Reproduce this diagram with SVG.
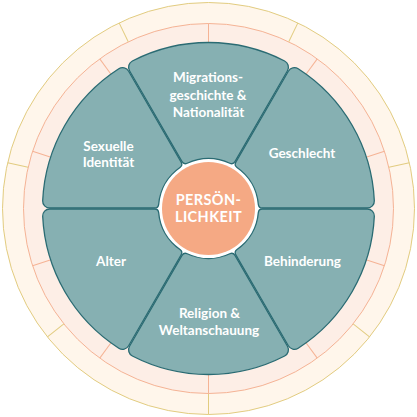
<svg xmlns="http://www.w3.org/2000/svg" xmlns:xlink="http://www.w3.org/1999/xlink" width="417" height="417" viewBox="0 0 417 417">
  <style>
    .seg { fill: #86b0b2; stroke: #2a6b73; stroke-width: 1.3; stroke-linejoin: round; }
    .lbl { font-family: Lato, "Open Sans", "Liberation Sans", sans-serif; font-weight: 700; font-size: 13.5px; fill: #ffffff; text-anchor: middle; }
    .core { font-size: 14.5px; letter-spacing: 0.4px; }
    .gold { stroke: #e2cc80; stroke-width: 1; }
    .salmon { stroke: #f5b395; stroke-width: 1; }
  </style>
  <defs>
    <path id="seg" d="M -21.305 -45.234 A 4 4 0 0 1 -26.473 -46.853 L -78.978 -137.795 A 7 7 0 0 1 -76.126 -147.515 A 166 166 0 0 1 76.126 -147.515 A 7 7 0 0 1 78.978 -137.795 L 26.473 -46.853 A 4 4 0 0 1 21.305 -45.234 A 50 50 0 0 0 -21.305 -45.234 Z"/>
    <line id="gl" x1="0" y1="-185" x2="0" y2="-206"/>
    <line id="sl" x1="0" y1="-164" x2="0" y2="-185"/>
  </defs>
  <rect width="417" height="417" fill="#ffffff"/>
  <g id="rings">
    <circle cx="208.5" cy="208.5" r="206" fill="#fff6eb" stroke="#e2cc80" stroke-width="1"/>
    <circle cx="208.5" cy="208.5" r="185" fill="#fdeee6" stroke="#f5b395" stroke-width="1"/>
    <g class="gold" transform="translate(208.5 208.5)">
      <use xlink:href="#gl" transform="rotate(25.714)"/>
      <use xlink:href="#gl" transform="rotate(77.143)"/>
      <use xlink:href="#gl" transform="rotate(128.571)"/>
      <use xlink:href="#gl" transform="rotate(180)"/>
      <use xlink:href="#gl" transform="rotate(231.429)"/>
      <use xlink:href="#gl" transform="rotate(282.857)"/>
      <use xlink:href="#gl" transform="rotate(334.286)"/>
    </g>
    <g class="salmon" transform="translate(208.5 208.5)">
      <use xlink:href="#sl" transform="rotate(0)"/>
      <use xlink:href="#sl" transform="rotate(36)"/>
      <use xlink:href="#sl" transform="rotate(72)"/>
      <use xlink:href="#sl" transform="rotate(108)"/>
      <use xlink:href="#sl" transform="rotate(144)"/>
      <use xlink:href="#sl" transform="rotate(180)"/>
      <use xlink:href="#sl" transform="rotate(216)"/>
      <use xlink:href="#sl" transform="rotate(252)"/>
      <use xlink:href="#sl" transform="rotate(288)"/>
      <use xlink:href="#sl" transform="rotate(324)"/>
    </g>
    <circle cx="208.5" cy="208.5" r="58" fill="#ffffff"/>
  </g>
  <g id="migration">
    <use xlink:href="#seg" class="seg" transform="translate(208.5 208.5) rotate(0)"/>
    <text class="lbl" x="208" y="82">Migrations-</text>
    <text class="lbl" x="208" y="99.5">geschichte &amp;</text>
    <text class="lbl" x="208.5" y="117">Nationalität</text>
  </g>
  <g id="geschlecht">
    <use xlink:href="#seg" class="seg" transform="translate(208.5 208.5) rotate(60)"/>
    <text class="lbl" x="302" y="157.5">Geschlecht</text>
  </g>
  <g id="behinderung">
    <use xlink:href="#seg" class="seg" transform="translate(208.5 208.5) rotate(120)"/>
    <text class="lbl" x="302.5" y="266">Behinderung</text>
  </g>
  <g id="religion">
    <use xlink:href="#seg" class="seg" transform="translate(208.5 208.5) rotate(180)"/>
    <text class="lbl" x="209.5" y="317.5">Religion &amp;</text>
    <text class="lbl" x="209" y="334.5">Weltanschauung</text>
  </g>
  <g id="alter">
    <use xlink:href="#seg" class="seg" transform="translate(208.5 208.5) rotate(240)"/>
    <text class="lbl" x="111" y="266">Alter</text>
  </g>
  <g id="sexuelle-identitaet">
    <use xlink:href="#seg" class="seg" transform="translate(208.5 208.5) rotate(300)"/>
    <text class="lbl" x="108.5" y="150.5">Sexuelle</text>
    <text class="lbl" x="108.5" y="167">Identität</text>
  </g>
  <g id="persoenlichkeit">
    <circle cx="208.5" cy="208.5" r="46.5" fill="#f5a984"/>
    <text class="lbl core" x="208.5" y="204.5">PERSÖN-</text>
    <text class="lbl core" x="208.5" y="221.5">LICHKEIT</text>
  </g>
</svg>
